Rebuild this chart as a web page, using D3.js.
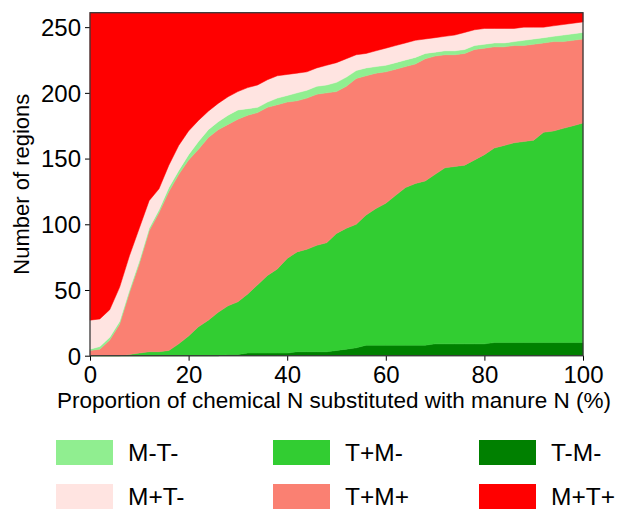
<!DOCTYPE html>
<html>
<head>
<meta charset="utf-8">
<script src="https://cdn.jsdelivr.net/npm/d3@7"></script>
<style>
  html, body { margin: 0; padding: 0; background: #fff; }
  svg { display: block; font-family: "Liberation Sans", Arial, sans-serif; }
</style>
</head>
<body>
<svg id="chart" width="617" height="509"></svg>
<script>
// Proportion of chemical N substituted with manure N (%)
const proportions = [0,2,4,6,8,10,12,14,16,18,20,22,24,26,28,30,32,34,36,38,40,42,44,46,48,50,
  52,54,56,58,60,62,64,66,68,70,72,74,76,78,80,82,84,86,88,90,92,94,96,98,100];

// Number of regions per category (stack order bottom -> top)
const tMinusMMinus = [0,0,0,0,0,0,0,0,0,0,0,0,0,0,1,1,2,2,2,2,2,3,3,3,3,4,
  5,6,8,8,8,8,8,8,8,9,9,9,9,9,9,10,10,10,10,10,10,10,10,10,10];
const tPlusMMinus = [0,0,0,0,1,2,3,3,4,9,15,22,27,33,37,40,45,52,59,64,72,76,78,81,83,89,
  92,94,99,104,108,114,120,123,125,129,134,135,136,140,144,148,150,152,153,154,160,161,163,165,167];
const tPlusMPlus = [4,5,12,24,47,68,92,106,121,129,134,135,139,139,138,139,136,131,128,125,119,115,115,115,114,108,
  108,111,106,103,100,96,92,91,93,90,86,85,85,84,81,77,75,74,73,73,68,68,66,65,64];
const mMinusTMinus = [1,2,2,2,2,2,2,2,3,3,4,6,6,6,7,7,5,4,4,5,5,6,6,6,6,7,
  7,6,6,5,5,5,5,5,4,3,3,3,3,3,3,3,3,3,4,4,4,4,5,5,5];
const mPlusTMinus = [22,21,21,26,26,25,21,16,17,19,18,16,14,14,14,14,16,17,17,17,16,15,14,14,15,15,
  14,12,11,12,13,13,13,13,11,11,11,12,13,12,12,11,11,10,10,9,8,8,8,8,8];
const mPlusTPlus = [234,233,226,209,185,164,143,134,116,101,90,82,75,69,64,60,57,55,51,48,47,46,45,42,40,38,
  35,32,31,29,27,25,23,21,20,19,18,17,15,13,12,12,12,12,11,11,11,10,9,8,7];

const seriesNames = ["T-M-", "T+M-", "T+M+", "M-T-", "M+T-", "M+T+"];
const seriesValues = [tMinusMMinus, tPlusMMinus, tPlusMPlus, mMinusTMinus, mPlusTMinus, mPlusTPlus];
const seriesColors = ["#008000", "#32CD32", "#FA8072", "#90EE90", "#FFE4E1", "#FF0000"];

const xTicks = [0, 20, 40, 60, 80, 100];
const yTicks = [0, 50, 100, 150, 200, 250];
const yMax = 261;

const legendOrder = ["M-T-", "T+M-", "T-M-", "M+T-", "T+M+", "M+T+"];

const xLabel = "Proportion of chemical N substituted with manure N (%)";
const yLabel = "Number of regions";

// ---- build table ----
const table = proportions.map((p, i) => {
  const row = { p };
  seriesNames.forEach((name, k) => { row[name] = seriesValues[k][i]; });
  return row;
});

const svg = d3.select("#chart");
const plotL = 90, plotR = 583, plotT = 12.7, plotB = 355.7;

const x = d3.scaleLinear().domain([0, 100]).range([plotL, plotR]);
const y = d3.scaleLinear().domain([0, yMax]).range([plotB, plotT]);

const stack = d3.stack().keys(seriesNames);
const layers = stack(table);

const area = d3.area()
  .x(d => x(d.data.p))
  .y0(d => y(d[0]))
  .y1(d => y(d[1]));

svg.append("g")
  .selectAll("path")
  .data(layers)
  .join("path")
  .attr("d", area)
  .attr("fill", (d, i) => seriesColors[i])
  .attr("stroke", (d, i) => seriesColors[i])
  .attr("stroke-width", 0.5);

// axes
const fontTick = 24;
const xAxis = d3.axisBottom(x).tickValues(xTicks).tickSize(5).tickPadding(4).tickFormat(d3.format("d"));
const yAxis = d3.axisLeft(y).tickValues(yTicks).tickSize(5).tickPadding(4).tickFormat(d3.format("d"));

const gx = svg.append("g").attr("transform", `translate(0,${plotB})`).call(xAxis);
const gy = svg.append("g").attr("transform", `translate(${plotL},0)`).call(yAxis);
[gx, gy].forEach(g => {
  g.select(".domain").remove();
  g.selectAll(".tick line").attr("stroke", "#000").attr("stroke-width", 1);
  g.selectAll(".tick text").attr("font-size", fontTick).attr("fill", "#000")
    .attr("font-family", "'Liberation Sans', Arial, sans-serif");
});
gx.selectAll(".tick text").attr("dy", "0.76em");
gy.selectAll(".tick text").attr("dy", "0.35em");

// frame
svg.append("rect")
  .attr("x", plotL).attr("y", plotT)
  .attr("width", plotR - plotL).attr("height", plotB - plotT)
  .attr("fill", "none").attr("stroke", "#3a3a3a").attr("stroke-width", 1.3);

// axis labels
svg.append("text")
  .attr("x", 334).attr("y", 408)
  .attr("text-anchor", "middle").attr("font-size", 22.5).attr("fill", "#000")
  .text(xLabel);

svg.append("text")
  .attr("transform", `translate(29,${(plotT + plotB) / 2}) rotate(-90)`)
  .attr("text-anchor", "middle").attr("font-size", 22).attr("fill", "#000")
  .text(yLabel);

// legend
const colX = [56, 273, 479];
const rowY = [440, 484];
const legend = svg.append("g");
legendOrder.forEach((name, i) => {
  const col = i % 3, row = Math.floor(i / 3);
  const idx = seriesNames.indexOf(name);
  const g = legend.append("g").attr("transform", `translate(${colX[col]},${rowY[row]})`);
  g.append("rect").attr("width", 57).attr("height", 25).attr("fill", seriesColors[idx]);
  g.append("text").attr("x", 72).attr("y", 21).attr("font-size", 24.5).attr("fill", "#000").text(name);
});
</script>
</body>
</html>
